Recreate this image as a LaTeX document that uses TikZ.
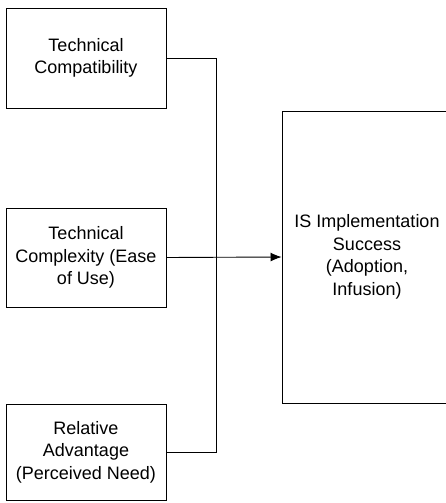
\documentclass[tikz,border=0pt]{standalone}
\usepackage{fontspec}
\setmainfont{Liberation Sans}
\usetikzlibrary{positioning,arrows.meta}

\begin{document}
\begin{tikzpicture}[x=1pt,y=-1pt,
    factor/.style={draw,line width=0.9pt,minimum width=160pt,minimum height=100pt,inner sep=0pt,align=center,font=\fontsize{18}{22.5}\selectfont},
    wire/.style={line width=0.9pt},
    flow/.style={wire,-{Latex[length=11pt,width=9pt]}}]
    \useasboundingbox (0,0) rectangle (446,503);
    \node[factor] (compat) at (86,58) {Technical\\Compatibility};
    \node[factor,minimum height=99pt] (complex) at (86,257.5) {Technical\\Complexity (Ease\\of Use)};
    \node[factor,minimum height=96pt] (advant) at (86,452) {Relative\\Advantage\\(Perceived Need)};
    \node[factor,minimum width=170pt,minimum height=292pt] (success) at (367,257) {IS Implementation\\Success\\(Adoption,\\Infusion)};
    \coordinate (junc) at (216,58);
    \draw[wire] (compat.east) -- (junc) |- (advant.east);
    \draw[flow] (complex.east) -- (success.west);
  \end{tikzpicture}
\end{document}
